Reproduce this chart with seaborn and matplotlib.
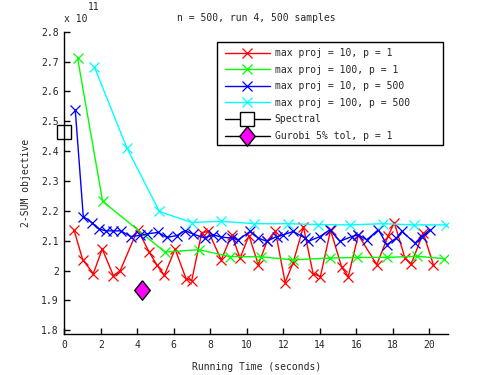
import matplotlib
matplotlib.use("Agg")
import matplotlib.pyplot as plt
from matplotlib.patches import Rectangle
import seaborn as sns
import pandas as pd

# ---- data (objective in units of 1e11) ----
red_x = [0.53, 1.01, 1.59, 2.08, 2.69, 3.05, 4.02, 4.66, 5.06, 5.48, 6.07, 6.67, 6.98, 7.53, 7.89,
         8.60, 9.17, 9.63, 10.12, 10.63, 11.12, 11.57, 12.10, 12.53, 13.10, 13.63, 14.03, 14.59,
         15.20, 15.56, 16.11, 17.12, 17.75, 18.08, 18.67, 19.00, 19.67, 20.22]
red_y = [2.136, 2.036, 1.990, 2.072, 1.983, 1.998, 2.137, 2.061, 2.020, 1.984, 2.072, 1.973, 1.966,
         2.127, 2.131, 2.036, 2.119, 2.042, 2.117, 2.020, 2.100, 2.131, 1.960, 2.025, 2.147, 1.990,
         1.980, 2.135, 2.011, 1.980, 2.119, 2.020, 2.117, 2.161, 2.041, 2.022, 2.126, 2.020]

green_x = [0.73, 2.10, 5.52, 7.38, 9.06, 10.77, 12.55, 14.56, 16.05, 17.67, 19.31, 20.81]
green_y = [2.711, 2.232, 2.062, 2.070, 2.047, 2.046, 2.036, 2.042, 2.044, 2.044, 2.048, 2.040]

blue_x = [0.60, 1.04, 1.50, 1.92, 2.28, 2.68, 3.09, 3.64, 4.15, 4.55, 5.15, 5.61, 6.16, 6.61,
          7.07, 7.71, 8.16, 8.60, 9.17, 9.53, 10.18, 10.63, 11.09, 11.64, 12.00, 12.55, 13.19,
          13.37, 14.01, 14.56, 15.10, 15.75, 16.11, 16.57, 17.21, 17.67, 18.20, 18.49, 19.22,
          19.58, 20.04]
blue_y = [2.538, 2.181, 2.161, 2.139, 2.133, 2.133, 2.133, 2.114, 2.118, 2.123, 2.128, 2.111,
          2.117, 2.134, 2.122, 2.109, 2.120, 2.112, 2.109, 2.103, 2.131, 2.109, 2.098, 2.114,
          2.120, 2.131, 2.109, 2.098, 2.114, 2.137, 2.098, 2.114, 2.120, 2.103, 2.137, 2.087,
          2.109, 2.131, 2.092, 2.114, 2.137]

cyan_x = [1.64, 3.42, 5.21, 6.98, 8.59, 10.41, 12.24, 13.92, 15.65, 17.45, 19.18, 20.92]
cyan_y = [2.683, 2.412, 2.198, 2.161, 2.165, 2.157, 2.157, 2.154, 2.153, 2.157, 2.153, 2.153]

spectral_x = [0.0]
spectral_y = [2.464]
gurobi_x = [4.27]
gurobi_y = [1.936]

labels = ["max proj = 10, p = 1", "max proj = 100, p = 1", "max proj = 10, p = 500",
          "max proj = 100, p = 500", "Spectral", "Gurobi 5% tol, p = 1"]
title = "n = 500, run 4, 500 samples"
xlabel = "Running Time (seconds)"
ylabel = "2-SUM objective"
xticks = [0, 2, 4, 6, 8, 10, 12, 14, 16, 18, 20]
yticks = [1.8, 1.9, 2.0, 2.1, 2.2, 2.3, 2.4, 2.5, 2.6, 2.7, 2.8]
ytick_labels = ["1.8", "1.9", "2", "2.1", "2.2", "2.3", "2.4", "2.5", "2.6", "2.7", "2.8"]

sns.set_style("white")
plt.rcParams["font.family"] = ["DejaVu Sans Mono"]
FS = 7.0

W, H = 495, 375
fig = plt.figure(figsize=(W / 100, H / 100), dpi=100)
ax = fig.add_axes([64.3 / W, 1 - 334 / H, (448.3 - 64.3) / W, (334 - 31.7) / H])

series = [(red_x, red_y, (1, 0, 0)), (green_x, green_y, (0, 1, 0)),
          (blue_x, blue_y, (0, 0, 1)), (cyan_x, cyan_y, (0, 1, 1))]
for (xs, ys, c), lab in zip(series, labels[:4]):
    df = pd.DataFrame({"t": xs, "obj": ys})
    sns.lineplot(data=df, x="t", y="obj", ax=ax, color=c, lw=1.0, marker="x", ms=6.5,
                 mec=c, mew=0.9, estimator=None, sort=False, label=lab)

df_s = pd.DataFrame({"t": spectral_x, "obj": spectral_y})
sns.lineplot(data=df_s, x="t", y="obj", ax=ax, color="k", lw=1.0, marker="s", ms=10,
             mfc="w", mec="k", mew=1.0, estimator=None, label=labels[4], clip_on=False)
diamond = [(0, 1), (0.8, 0), (0, -1), (-0.8, 0), (0, 1)]
df_g = pd.DataFrame({"t": gurobi_x, "obj": gurobi_y})
sns.lineplot(data=df_g, x="t", y="obj", ax=ax, color="k", lw=1.0, marker=diamond, ms=14,
             mfc=(1, 0, 1), mec="k", mew=1.0, estimator=None, label=labels[5])

ax.set_xlim(0, 21.04)
ax.set_ylim(1.7876, 2.8)
ax.set_xticks(xticks)
ax.set_xticklabels([str(v) for v in xticks], fontsize=FS)
ax.set_yticks(yticks)
ax.set_yticklabels(ytick_labels, fontsize=FS)
ax.tick_params(direction="in", length=4, width=1, color="k", pad=4)
ax.xaxis.set_ticks_position("bottom")
ax.yaxis.set_ticks_position("left")
for s in ["top", "right"]:
    ax.spines[s].set_visible(False)
for s in ["left", "bottom"]:
    ax.spines[s].set_color("k")
    ax.spines[s].set_linewidth(1)
ax.set_xlabel(xlabel, fontsize=FS, labelpad=9)
ax.set_ylabel(ylabel, fontsize=FS, labelpad=7)
ax.set_title(title, fontsize=FS, pad=8)

fig.text(64 / W, 1 - 19 / H, "x 10", fontsize=FS, va="center", ha="left")
fig.text(88 / W, 1 - 7.5 / H, "11", fontsize=FS, va="center", ha="left")

# legend entries (frameless) plus a box drawn as in the reference
leg = ax.legend(loc="upper left", bbox_to_anchor=(225 / W, 1 - 48 / H),
                bbox_transform=fig.transFigure, borderaxespad=0, borderpad=0,
                fontsize=FS, frameon=False, handlelength=4.6, labelspacing=0.68,
                handletextpad=0.5)
leg.set_zorder(6)
ax.add_patch(Rectangle((217 / W, 1 - 145 / H), (443 - 217) / W, (145 - 42) / H,
                       transform=fig.transFigure, fill=True, facecolor="white",
                       edgecolor="k", lw=1, zorder=5, clip_on=False))

fig.savefig("out.png", dpi=100)
